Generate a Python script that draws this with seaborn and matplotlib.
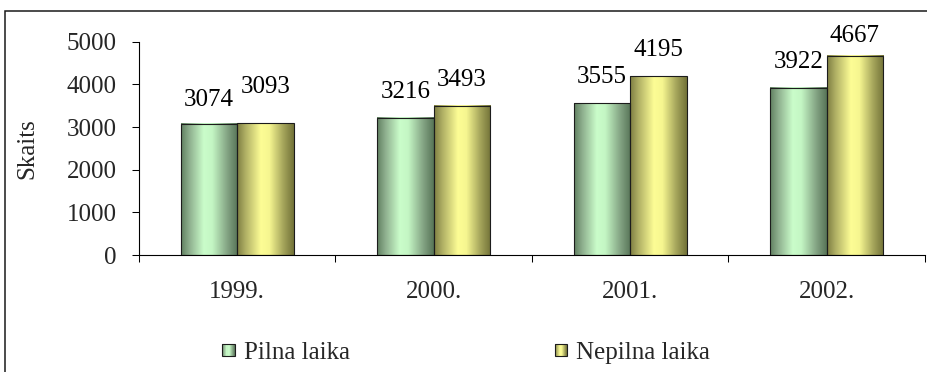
import numpy as np
import pandas as pd
import matplotlib
matplotlib.use("Agg")
import matplotlib.pyplot as plt
import seaborn as sns
from matplotlib.colors import LinearSegmentedColormap
from matplotlib.patches import Rectangle
from matplotlib.legend_handler import HandlerBase

# --- data -------------------------------------------------------------
years = ["1999.", "2000.", "2001.", "2002."]
series_names = ["Pilna laika", "Nepilna laika"]
pilna_laika = [3074, 3216, 3555, 3922]
nepilna_laika = [3093, 3493, 4195, 4667]
y_ticks = [0, 1000, 2000, 3000, 4000, 5000]
y_label = "Skaits"

df = pd.DataFrame({
    "Gads": years * 2,
    "Sērija": [series_names[0]] * len(years) + [series_names[1]] * len(years),
    "Skaits": pilna_laika + nepilna_laika,
})

# --- style ------------------------------------------------------------
sns.set_theme(style="white")
SERIF = ["Liberation Serif", "DejaVu Serif"]
plt.rcParams["font.family"] = SERIF
FS = 18

# cylinder-like shading for each series
cmaps = {
    series_names[0]: LinearSegmentedColormap.from_list("g", [
        (0.0, "#607f60"), (0.15, "#8fb08f"), (0.40, "#cafdca"),
        (0.55, "#c4f6c4"), (0.82, "#82a282"), (1.0, "#577457")]),
    series_names[1]: LinearSegmentedColormap.from_list("y", [
        (0.0, "#7e7e42"), (0.15, "#b0b065"), (0.42, "#fdfd95"),
        (0.57, "#f6f690"), (0.82, "#a3a35a"), (1.0, "#727238")]),
}
palette = {k: cmaps[k](0.45) for k in series_names}

fig = plt.figure(figsize=(9.28, 3.72), dpi=100)
ax = fig.add_axes([139 / 928, 1 - 255 / 372, 786 / 928, (255 - 41.7) / 372])

sns.barplot(data=df, x="Gads", y="Skaits", hue="Sērija", hue_order=series_names,
            palette=palette, width=0.575, saturation=1, legend=False,
            edgecolor="#1c1c1c", linewidth=0.8, ax=ax)

# paint a horizontal gradient inside every bar
grad = np.linspace(0, 1, 256).reshape(1, -1)
for name, cont in zip(series_names, ax.containers):
    for bar in cont:
        x0, w, h = bar.get_x(), bar.get_width(), bar.get_height()
        ax.imshow(grad, cmap=cmaps[name], extent=[x0, x0 + w, 0, h],
                  aspect="auto", interpolation="bilinear", zorder=2)
        bar.set_facecolor("none")
        bar.set_zorder(3)

# value labels above the bars
label_offsets = {(1, 0): 21.6, (1, 3): 10.0, (0, 0): 13.0}
for si, vals in enumerate([pilna_laika, nepilna_laika]):
    for ci, v in enumerate(vals):
        bar = ax.containers[si][ci]
        xc = bar.get_x() + bar.get_width() / 2
        off = label_offsets.get((si, ci), 14.4)
        ax.annotate(f"{v}", (xc, v), xytext=(0, off), textcoords="offset points",
                    ha="center", va="baseline", fontsize=FS, family=SERIF,
                    color="black", zorder=5, annotation_clip=False)

# axes
ax.set_xlim(-0.5, len(years) - 0.5)
ax.set_ylim(0, 5000)
ax.set_yticks(y_ticks)
ax.set_yticklabels([str(t) for t in y_ticks], fontsize=FS, family=SERIF)
ax.set_xticks(range(len(years)))
ax.set_xticklabels(years, fontsize=FS, family=SERIF)
ax.set_xticks(np.arange(-0.5, len(years)), minor=True)
ax.tick_params(axis="x", which="major", length=0, pad=19)
ax.tick_params(axis="x", which="minor", length=5, width=0.75, color="black",
               direction="out", bottom=True)
ax.tick_params(axis="y", which="major", length=5, width=0.75, color="black",
               direction="out", left=True, pad=11)
ax.set_xlabel("")
ax.set_ylabel(y_label, fontsize=FS, family=SERIF)
ax.yaxis.set_label_coords(-0.128, 0.5)
for s in ["top", "right"]:
    ax.spines[s].set_visible(False)
for s in ["left", "bottom"]:
    ax.spines[s].set_color("black")
    ax.spines[s].set_linewidth(0.8)
ax.set_facecolor("none")


# legend with shaded square keys
class GradientHandler(HandlerBase):
    def create_artists(self, legend, orig_handle, xdescent, ydescent,
                       width, height, fontsize, trans):
        cmap = orig_handle.cmap
        side = min(width, height)
        y0 = -ydescent + (height - side) / 2
        n = 12
        arts = []
        for i in range(n):
            arts.append(Rectangle((-xdescent + side * i / n, y0),
                                  side / n + 0.2, side,
                                  facecolor=cmap((i + 0.5) / n), edgecolor="none",
                                  transform=trans))
        arts.append(Rectangle((-xdescent, y0), side, side,
                              facecolor="none", edgecolor="#1c1c1c", lw=0.8,
                              transform=trans))
        return arts


class GradKey:
    def __init__(self, cmap):
        self.cmap = cmap


keys = [GradKey(cmaps[n]) for n in series_names]
fig.legend(keys, series_names, handler_map={GradKey: GradientHandler()},
           loc="center", bbox_to_anchor=(466 / 928, 1 - 353 / 372), ncol=2,
           frameon=False, prop={"family": SERIF, "size": FS},
           handlelength=0.5, handleheight=0.5,
           handletextpad=0.35, columnspacing=8.2, borderpad=0, borderaxespad=0)

# outer chart border
fig.patches.append(Rectangle((5.5 / 928, -0.1), 2.0, 1 - 11 / 372 + 0.1,
                             transform=fig.transFigure, facecolor="none",
                             edgecolor="#1a1a1a", lw=1.1, zorder=0))

fig.savefig("out.png", dpi=100, facecolor="white")
